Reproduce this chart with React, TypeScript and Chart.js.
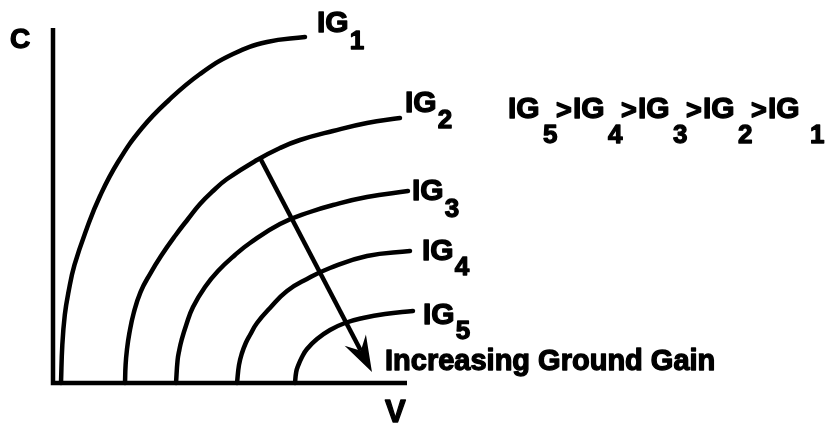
import React, { useEffect, useRef } from "react";
import { Chart, registerables } from "chart.js";

Chart.register(...registerables);

// ---- data (V on x, C on y) ----
const seriesNames = ["IG1", "IG2", "IG3", "IG4", "IG5"];
const subscripts = ["1", "2", "3", "4", "5"];

const ig1V = [2.26, 2.63, 3.33, 4.38, 6.07, 9.6, 13.28, 18.36, 25.14, 32.77, 41.53, 50.85, 60.45, 71.19];
const ig1C = [0, 10.7, 19.15, 25.63, 33.24, 43.66, 52.68, 62.25, 71.83, 79.72, 87.04, 92.68, 96.06, 97.46];

const ig2V = [20.34, 20.51, 20.88, 21.58, 22.8, 24.72, 27.4, 30.51, 34.46, 38.14, 41.53, 45.2, 49.15, 57.63, 64.12, 69.77, 79.1, 88.7, 98.02];
const ig2C = [0, 5.07, 9.3, 14.08, 19.72, 25.63, 30.7, 35.77, 41.41, 46.2, 50.42, 54.08, 57.46, 62.82, 66.2, 68.45, 70.99, 73.24, 74.65];

const ig3V = [34.75, 35.2, 35.68, 36.33, 37.63, 39.55, 42.94, 46.61, 51.41, 55.65, 64.12, 72.6, 79.1, 88.7, 100.28];
const ig3C = [0, 6.48, 9.3, 12.11, 16.34, 21.41, 27.04, 31.55, 36.06, 39.44, 44.79, 48.17, 50.14, 52.39, 54.08];

const ig4V = [51.98, 52.54, 53.39, 54.46, 55.65, 57.63, 61.3, 66.1, 71.75, 78.25, 88.7, 100.85];
const ig4C = [0, 5.07, 8.45, 11.27, 13.52, 16.9, 21.13, 25.92, 29.3, 32.39, 35.77, 37.18];

const ig5V = [68.36, 68.7, 69.21, 70.34, 71.75, 74.58, 78.25, 82.49, 87.57, 93.79, 101.69];
const ig5C = [0, 3.1, 4.79, 7.32, 9.58, 12.39, 14.93, 16.9, 18.31, 19.44, 20.28];

const arrowV = [58.5, 90.1];
const arrowC = [63.4, 3.1];

const axisMaxV = 100;
const axisMaxC = 100;

const xTitle = "V";
const yTitle = "C";
const labelMain = "IG";
const arrowText = "Increasing Ground Gain";
const orderSubs = ["5", "4", "3", "2", "1"];

const allV = [ig1V, ig2V, ig3V, ig4V, ig5V];
const allC = [ig1C, ig2C, ig3C, ig4C, ig5C];

const FONT = "'Liberation Sans', Arial, Helvetica, sans-serif";
const LINE_W = 4.5;

// label offsets (pixels) from each curve end: [dx, dy]
const labelOffsets = [
  [12, -5],
  [5, -6],
  [4, 9],
  [12, 9],
  [10, 13],
];
const subDrop = [17, 16, 17, 15, 15];

function heavyText(ctx: CanvasRenderingContext2D, t: string, x: number, y: number) {
  ctx.fillText(t, x, y);
  ctx.strokeText(t, x, y);
}

const annotPlugin = {
  id: "annot",
  afterDatasetsDraw(chart: any) {
    const ctx = chart.ctx as CanvasRenderingContext2D;
    const xs = chart.scales.x;
    const ys = chart.scales.y;
    const px = (v: number) => xs.getPixelForValue(v);
    const py = (c: number) => ys.getPixelForValue(c);
    ctx.save();
    ctx.strokeStyle = "#000";
    ctx.fillStyle = "#000";
    ctx.lineWidth = LINE_W;
    ctx.lineCap = "butt";
    ctx.lineJoin = "miter";

    // axes
    ctx.beginPath();
    ctx.moveTo(px(0), py(axisMaxC));
    ctx.lineTo(px(0), py(0));
    ctx.lineTo(px(axisMaxV), py(0));
    ctx.stroke();

    // arrow
    const sx = px(arrowV[0]);
    const sy = py(arrowC[0]);
    const tx = px(arrowV[1]);
    const ty = py(arrowC[1]);
    const len = Math.hypot(tx - sx, ty - sy);
    const ux = (tx - sx) / len;
    const uy = (ty - sy) / len;
    const nx = -uy;
    const ny = ux;
    const headLen = 36;
    const headHalf = 12;
    const notch = 24;
    const nxp = tx - ux * notch;
    const nyp = ty - uy * notch;
    ctx.beginPath();
    ctx.moveTo(sx, sy);
    ctx.lineTo(nxp, nyp);
    ctx.stroke();
    ctx.beginPath();
    ctx.moveTo(tx, ty);
    ctx.lineTo(tx - ux * headLen + nx * headHalf, ty - uy * headLen + ny * headHalf);
    ctx.lineTo(nxp, nyp);
    ctx.lineTo(tx - ux * headLen - nx * headHalf, ty - uy * headLen - ny * headHalf);
    ctx.closePath();
    ctx.fill();

    ctx.textBaseline = "alphabetic";
    ctx.textAlign = "left";
    ctx.lineWidth = 1.3;
    ctx.lineJoin = "round";

    // curve labels
    for (let i = 0; i < allV.length; i++) {
      const v = allV[i];
      const c = allC[i];
      const ex = px(v[v.length - 1]);
      const ey = py(c[c.length - 1]);
      const lx = ex + labelOffsets[i][0];
      const ly = ey + labelOffsets[i][1];
      ctx.font = `bold 30px ${FONT}`;
      heavyText(ctx, labelMain, lx, ly);
      const w = ctx.measureText(labelMain).width;
      ctx.font = `bold 26px ${FONT}`;
      heavyText(ctx, subscripts[i], lx + w + 1, ly + subDrop[i]);
    }

    // ordering statement
    const ox = 508;
    const oy = 118;
    for (let k = 0; k < orderSubs.length; k++) {
      const x = ox + k * 65;
      ctx.font = `bold 30px ${FONT}`;
      heavyText(ctx, labelMain, x, oy);
      ctx.font = `bold 26px ${FONT}`;
      heavyText(ctx, orderSubs[k], x + (k === orderSubs.length - 1 ? 42 : 35), oy + 25);
      if (k < orderSubs.length - 1) {
        ctx.font = `bold 27px ${FONT}`;
        heavyText(ctx, ">", x + 48, oy + 1);
      }
    }

    // arrow caption
    ctx.font = `bold 29px ${FONT}`;
    heavyText(ctx, arrowText, 385, 370);

    // axis titles
    ctx.font = `bold 28px ${FONT}`;
    heavyText(ctx, yTitle, 10, 48);
    ctx.font = `bold 31px ${FONT}`;
    heavyText(ctx, xTitle, 385, 422);

    ctx.restore();
  },
};

export default function App() {
  const ref = useRef<HTMLCanvasElement | null>(null);
  useEffect(() => {
    if (!ref.current) return;
    const datasets = allV.map((v, i) => ({
      label: seriesNames[i],
      data: v.map((x, j) => ({ x, y: allC[i][j] })),
      borderColor: "#000",
      backgroundColor: "#000",
      borderWidth: LINE_W,
      borderCapStyle: "round" as const,
      borderJoinStyle: "round" as const,
      pointRadius: 0,
      tension: 0.45,
      fill: false,
      clip: false as any,
      showLine: true,
    }));
    const chart = new Chart(ref.current, {
      type: "scatter",
      data: { datasets },
      options: {
        animation: false,
        responsive: false,
        maintainAspectRatio: false,
        layout: { padding: { left: 53, right: 420, top: 28, bottom: 42 } },
        plugins: { legend: { display: false }, tooltip: { enabled: false } },
        scales: {
          x: { type: "linear", min: 0, max: axisMaxV, display: false },
          y: { type: "linear", min: 0, max: axisMaxC, display: false },
        },
      },
      plugins: [annotPlugin],
    });
    return () => chart.destroy();
  }, []);
  return (
    <div style={{ position: "fixed", left: 0, top: 0, width: 827, height: 425, background: "#fff" }}>
      <canvas ref={ref} width={827} height={425} />
    </div>
  );
}
